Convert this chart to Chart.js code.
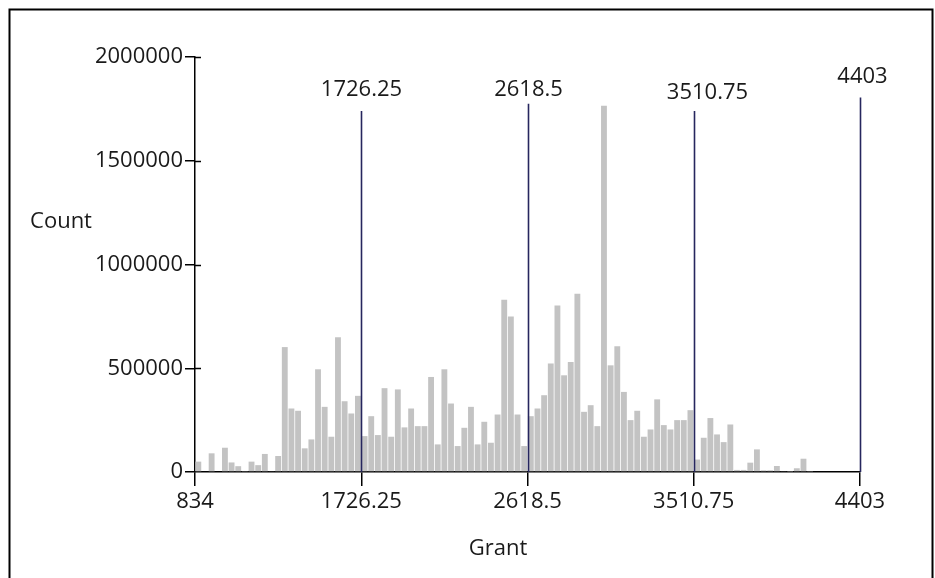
<!DOCTYPE html>
<html>
<head>
<meta charset="utf-8">
<title>Grant histogram</title>
<script src="https://cdn.jsdelivr.net/npm/chart.js@4.4.1/dist/chart.umd.min.js"></script>
<style>
    body { margin: 0; background: #fff; }
    canvas { display: block; }
</style>
</head>
<body>
<canvas id="chart1" width="935" height="578"></canvas>
<script>
// Histogram bins: 100 bins between min and max grant
const binStart = 834;
const binEnd = 4403;
const binCount = 100;

// Count per bin
const counts = [
    50000, 0, 90000, 0, 117000, 46000, 28000, 5000, 50000, 33000,
    87000, 3000, 77000, 602000, 306000, 295000, 114000, 157000, 495000, 314000,
    170000, 650000, 341000, 282000, 367000, 173000, 269000, 178000, 404000, 170000,
    398000, 215000, 306000, 221000, 221000, 458000, 133000, 495000, 330000, 125000,
    213000, 314000, 133000, 242000, 141000, 277000, 830000, 750000, 277000, 125000,
    269000, 306000, 370000, 523000, 803000, 466000, 530000, 859000, 290000, 322000,
    221000, 1765000, 514000, 606000, 386000, 250000, 295000, 170000, 205000, 350000,
    226000, 205000, 250000, 250000, 298000, 60000, 165000, 260000, 181000, 144000,
    229000, 10000, 10000, 45000, 109000, 8000, 8000, 29000, 3000, 2000,
    18000, 64000, 5000, 0, 0, 0, 0, 0, 0, 0
];

// Axis ticks
const xTicks = [834, 1726.25, 2618.5, 3510.75, 4403];
const yTicks = [0, 500000, 1000000, 1500000, 2000000];

// Quartile marker lines and the count where each one ends
const markers = [1726.25, 2618.5, 3510.75, 4403];
const markerTops = [1740000, 1775000, 1740000, 1805000];

document.addEventListener('DOMContentLoaded', function() {
    const binWidth = (binEnd - binStart) / binCount;
    const bars = counts.map((c, i) => ({ x: binStart + (i + 0.5) * binWidth, y: c }));

    const FONT = "'Open Sans', 'Noto Sans', sans-serif";
    const TEXT = '#1a1a1a';
    const labelDx = [0, 0, 13, 2];
    const labelDy = [21, 14, 18, 21];

    const overlay = {
        id: 'overlay',
        beforeDraw(chart) {
            const c = chart.ctx;
            c.save();
            c.fillStyle = '#fff';
            c.fillRect(0, 0, chart.width, chart.height);
            c.strokeStyle = '#000';
            c.lineWidth = 2;
            c.strokeRect(9.5, 9.5, 923, 600);
            c.restore();
        },
        afterDatasetsDraw(chart) {
            const c = chart.ctx;
            const xs = chart.scales.x, ys = chart.scales.y;
            const base = ys.getPixelForValue(0);
            const left = chart.chartArea.left;
            c.save();
            // short stubs of the y ticks on the inner side of the axis
            c.strokeStyle = '#000';
            c.lineWidth = 1.5;
            yTicks.slice(1).forEach(v => {
                const py = Math.round(ys.getPixelForValue(v)) + 0.5;
                c.beginPath();
                c.moveTo(left, py);
                c.lineTo(left + 6, py);
                c.stroke();
            });
            c.font = '22px ' + FONT;
            c.fillStyle = TEXT;
            c.textAlign = 'center';
            c.textBaseline = 'middle';
            markers.forEach((m, i) => {
                const px = Math.round(xs.getPixelForValue(m)) + 0.5;
                const top = ys.getPixelForValue(markerTops[i]);
                c.strokeStyle = '#26265e';
                c.lineWidth = 1.6;
                c.beginPath();
                c.moveTo(px, top);
                c.lineTo(px, base);
                c.stroke();
                c.fillText(String(m), px + labelDx[i], top - labelDy[i]);
            });
            // axis titles, drawn flat like the original
            c.fillText('Count', 61, 222);
            c.fillText('Grant', 498, 549);
            c.restore();
        }
    };

    const ctx = document.getElementById('chart1').getContext('2d');
    new Chart(ctx, {
        type: 'bar',
        data: {
            datasets: [{
                label: 'Count',
                data: bars,
                backgroundColor: '#c3c3c3',
                borderWidth: 0,
                barPercentage: 0.88,
                categoryPercentage: 1
            }]
        },
        options: {
            responsive: false,
            animation: false,
            layout: { padding: { top: 57, right: 75, left: 0, bottom: 0 } },
            plugins: {
                legend: { display: false },
                tooltip: { enabled: false }
            },
            scales: {
                x: {
                    type: 'linear',
                    min: binStart,
                    max: binEnd,
                    offset: false,
                    z: 1,
                    afterBuildTicks: s => { s.ticks = xTicks.map(v => ({ value: v })); },
                    afterFit: s => { s.height = 106; },
                    grid: {
                        offset: false,
                        drawOnChartArea: false,
                        drawTicks: true,
                        tickLength: 14,
                        color: '#000',
                        lineWidth: 1.5
                    },
                    border: { color: '#000', width: 1.5 },
                    ticks: {
                        padding: 3,
                        maxRotation: 0,
                        autoSkip: false,
                        color: TEXT,
                        font: { family: FONT, size: 22 },
                        callback: v => String(v)
                    }
                },
                y: {
                    min: 0,
                    max: 2000000,
                    z: 1,
                    afterBuildTicks: s => { s.ticks = yTicks.map(v => ({ value: v })); },
                    afterFit: s => { s.width = 195; },
                    grid: {
                        drawOnChartArea: false,
                        drawTicks: true,
                        tickLength: 10,
                        color: '#000',
                        lineWidth: 1.5
                    },
                    border: { color: '#000', width: 1.5 },
                    ticks: {
                        padding: 2,
                        color: TEXT,
                        font: { family: FONT, size: 22 },
                        callback: v => String(v)
                    }
                }
            }
        },
        plugins: [overlay]
    });
});
</script>
</body>
</html>
